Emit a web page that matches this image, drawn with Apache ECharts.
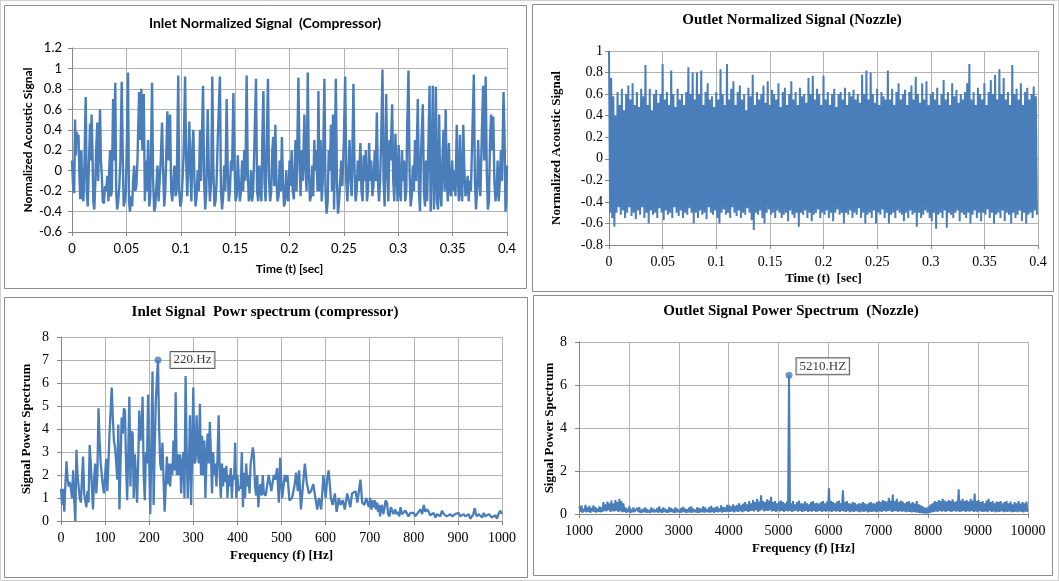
<!DOCTYPE html>
<html>
<head>
<meta charset="utf-8">
<title>Inlet / Outlet acoustic signals and power spectra</title>
<script src="https://cdn.jsdelivr.net/npm/echarts@6/dist/echarts.min.js"></script>
<style>
  html, body { margin: 0; padding: 0; background: #fff; }
  #chart { width: 1059px; height: 581px; }
</style>
</head>
<body>
<div id="chart"></div>
<script>
// ---------- Inlet normalized signal (compressor): time [ms] and amplitude ----------
const inletTimeMs = [
  0,1,2,2.8,3.5,4.3,5.2,6,6.8,7.6,
  8.6,9.5,10.5,11.5,12.6,13.5,14.5,15.5,16.6,17.3,
  18,18.8,19.6,20.5,21.5,22.2,23.3,24,25,25.8,
  26.6,27.4,28.3,29.4,30.4,31.4,32.5,33.5,34.2,35,
  35.8,36.6,37.8,38.6,39.8,40.6,41.5,42.5,43.5,44.5,
  45.7,46.6,47.5,48.5,49.5,50.5,51.5,52.4,53.3,54.3,
  55.3,56.2,57.2,58.2,59.2,60.2,61.7,62.6,63.8,64.7,
  66,67,68,69,70,71,72,73.6,74.6,75.6,
  76.6,77.6,78.6,79.6,80.6,81.6,82.8,83.8,84.8,85.8,
  86.8,87.7,88.7,90.2,91.2,92.2,93.2,94.2,95.2,96.2,
  97.7,98.6,99.6,100.6,101.6,102.6,104,105,106,107,
  107.9,108.8,109.8,110.6,111.6,112.6,113.6,114.6,115.6,116.6,
  117.7,118.6,120.5,121.5,122.5,123.5,124.8,125.8,126.8,128,
  129,130,131,132,133,134,136,137,138,139,
  140,141,142.2,143.2,144.2,145.2,146.2,147.2,148.4,149.4,
  150.4,151.4,152.4,153.4,154.4,155.4,156.4,157.4,158.4,159.4,
  160.6,161.6,162.6,163.6,164.6,165.6,166.6,167.6,169.2,170.2,
  171.2,172.2,173.2,174.2,175,176,177,178,179,180.2,
  181.2,182.2,183.2,184.2,185,186,187,188,189,190,
  191,192,193,194,195,196,197,198,199,200,
  201,202,203,204,205.5,206.5,208.2,209.2,210.2,211.2,
  212.2,213.7,214.7,215.7,216.8,217.8,218.8,219.8,220.8,221.8,
  222.8,223.8,224.8,225.8,226.6,227.6,228.6,229.6,230.6,232.1,
  233.1,234.1,235.1,236.1,237.1,238.1,239.1,240,241,242.6,
  243.6,244.6,245.6,246.6,247.6,248.6,250,251.2,252.2,253.2,
  254.2,255.2,256.2,257.2,258.8,259.8,260.8,261.8,262.8,263.8,
  265.2,266.2,267.2,268.2,269.2,270.2,271.2,272.2,273.2,274.2,
  275.2,276.2,277.2,278.4,279.2,280.3,281.3,282.3,283.3,284.3,
  285.5,286.5,287.5,288.9,289.9,290.9,291.9,292.9,294.4,295.4,
  296.4,297.4,298.4,299.4,300.4,301.4,302.4,303.4,304.4,305.4,
  306.4,307.4,308.2,309.4,310.4,311.4,312.4,313.4,314.4,315.4,
  316.4,318,319,320,321,322.6,323.6,324.6,325.6,326.6,
  327.6,328.8,329.8,330.8,331.8,332.8,333.8,334.6,335.6,336.6,
  337.6,338.6,339.6,340.6,341.6,342.6,343.6,344.6,345.6,346.6,
  347.6,348.6,349.6,350.6,351.6,352.6,353.8,354.8,355.8,356.8,
  357.8,358.8,359.8,360.8,361.8,362.8,363.8,364.8,365.8,366.8,
  368,369.5,370.5,371.5,372.5,373.5,374.5,375.5,376.5,378,
  379,380.4,381.4,382.4,383.4,384.4,385.4,386.4,387.4,388.4,
  389.4,390.4,391.4,392.4,393.4,394.4,395.4,396.8,397.8,398.6,
  399.4,400
];
const inletSignal = [
  0.1,-0.15,-0.22,0.5,0.15,0.38,0.3,0.35,-0.05,-0.28,
  0.2,-0.25,-0.3,0.1,0.72,-0.2,-0.35,0.05,0.46,0.1,
  0.55,0.2,-0.3,-0.38,-0.1,0.2,0.47,-0.1,0.3,0.6,
  0.1,-0.05,-0.3,-0.32,-0.15,-0.2,-0.05,-0.3,0,0.2,
  -0.25,-0.2,0.7,0.1,0.86,-0.2,-0.38,-0.3,-0.15,0.1,
  0.87,0.2,-0.35,-0.3,-0.2,0.3,0.96,-0.3,-0.4,-0.25,
  -0.35,-0.1,0.05,-0.2,-0.15,0.1,0.77,0.3,0.8,0.2,
  0.75,-0.3,0.1,-0.2,0.3,-0.35,-0.25,0.86,-0.1,-0.4,
  -0.35,-0.15,0.05,-0.3,-0.1,0.1,0.47,0,-0.35,-0.2,
  0.2,0.58,0.1,0.55,-0.2,-0.3,-0.1,0.05,-0.25,-0.2,
  0.93,-0.2,-0.35,-0.3,-0.1,0.15,0.92,0.1,-0.25,0.1,
  0.48,0,-0.3,0.2,0.4,-0.1,-0.35,-0.25,0,-0.2,
  0.4,-0.1,0.83,-0.1,-0.38,-0.2,0.6,0,-0.3,-0.1,
  0.92,0,-0.35,-0.3,-0.1,0.3,0.92,-0.2,-0.38,-0.25,
  0.05,-0.2,0.7,0,-0.3,-0.2,0.1,0,0.76,0.1,
  -0.3,-0.25,0.15,-0.1,-0.3,-0.2,0.1,-0.2,0.2,-0.1,
  0.93,0,-0.3,-0.25,0,-0.3,-0.2,0.2,0.9,-0.2,
  -0.3,0.05,-0.2,-0.3,0.3,0.78,-0.1,-0.3,0.2,0.9,
  -0.1,-0.3,-0.2,0.2,0.33,-0.15,0.45,-0.1,-0.3,-0.25,
  0.1,-0.2,0.33,-0.1,-0.35,-0.3,0,-0.25,-0.3,0.1,
  -0.15,0.2,-0.2,-0.28,0.3,-0.2,0.91,0.1,-0.25,0.2,
  -0.1,0.55,0,-0.2,0.96,0,-0.3,-0.25,0.05,-0.25,
  0.3,0,0.2,-0.2,0.78,-0.2,0.3,-0.3,-0.1,0.9,
  -0.2,-0.42,-0.3,0.2,0,0.45,-0.2,0.55,-0.38,0.9,
  -0.1,-0.42,-0.3,-0.1,0.1,-0.15,0.3,0.92,-0.1,-0.3,
  0,0.3,-0.1,-0.25,0.85,0,-0.3,-0.2,0.1,-0.1,
  0.27,-0.2,-0.3,0.15,-0.1,0.2,-0.3,-0.2,0.27,-0.1,
  0.1,-0.25,-0.15,0.2,-0.1,0.57,-0.1,-0.3,-0.1,0.3,
  0.99,-0.1,-0.35,0.75,0,-0.3,0.3,0.1,0.65,-0.1,
  -0.3,0.36,0,-0.3,0.25,-0.2,-0.3,0.2,-0.1,0.1,
  -0.3,-0.2,0.4,0.98,0,-0.35,-0.25,0.05,-0.2,0.3,
  -0.1,0.7,-0.2,-0.4,0.2,0.65,-0.2,-0.35,0.1,-0.3,
  0.2,0.83,-0.4,0.1,0.83,-0.38,0,0.82,-0.3,-0.38,
  0.55,-0.2,-0.35,0.1,0.4,-0.2,0.6,-0.1,-0.3,0.27,
  -0.2,-0.25,0.1,-0.2,0,-0.25,0.45,-0.1,-0.3,0.35,
  -0.2,-0.3,0.45,0,-0.25,-0.2,-0.05,-0.3,-0.1,-0.2,
  0.3,0.94,-0.1,-0.38,-0.2,0.3,-0.1,-0.25,0.2,0.83,
  0.1,0.92,0,-0.38,-0.3,0.3,0.55,0.2,0.53,-0.1,
  -0.3,-0.2,0.1,-0.3,-0.1,0.2,-0.1,0.77,0.3,-0.4,
  -0.3,0.05
];

// ---------- Outlet normalized signal (nozzle): positive and negative swings, 1 ms apart ----------
const outletSampleMs = 1;
const outletHigh = [
  1.0,0.75,0.58,0.4,0.62,0.5,0.65,0.45,0.6,0.68,0.55,0.7,0.5,0.62,0.48,0.65,0.58,0.87,0.5,0.65,
  0.45,0.6,0.64,0.52,0.6,0.88,0.55,0.62,0.5,0.82,0.6,0.48,0.65,0.55,0.6,0.5,0.62,0.85,0.6,0.8,
  0.55,0.8,0.6,0.82,0.5,0.62,0.7,0.55,0.58,0.48,0.62,0.55,0.83,0.6,0.5,0.88,0.55,0.65,0.72,0.5,
  0.62,0.68,0.55,0.6,0.45,0.66,0.58,0.78,0.5,0.62,0.55,0.6,0.68,0.52,0.72,0.5,0.64,0.6,0.55,0.7,
  0.48,0.62,0.66,0.5,0.6,0.72,0.55,0.62,0.5,0.66,0.58,0.6,0.52,0.75,0.6,0.77,0.55,0.65,0.6,0.5,
  0.77,0.55,0.62,0.5,0.6,0.65,0.48,0.6,0.62,0.55,0.66,0.5,0.62,0.58,0.64,0.55,0.6,0.52,0.78,0.6,
  0.82,0.55,0.8,0.6,0.52,0.65,0.5,0.62,0.58,0.55,0.82,0.55,0.65,0.5,0.62,0.7,0.55,0.6,0.64,0.5,
  0.62,0.68,0.55,0.76,0.6,0.52,0.7,0.55,0.72,0.5,0.6,0.62,0.55,0.66,0.5,0.6,0.73,0.55,0.62,0.5,
  0.7,0.58,0.64,0.52,0.6,0.55,0.62,0.7,0.88,0.55,0.62,0.5,0.66,0.6,0.55,0.7,0.5,0.62,0.73,0.6,
  0.78,0.55,0.83,0.6,0.75,0.55,0.62,0.5,0.87,0.6,0.65,0.55,0.7,0.5,0.62,0.66,0.55,0.6,0.67,0.58
];
const outletLow = [
  -0.5,-0.55,-0.63,-0.5,-0.45,-0.52,-0.48,-0.55,-0.5,-0.45,-0.53,-0.5,-0.56,-0.48,-0.52,-0.45,-0.55,-0.5,-0.6,-0.48,
  -0.52,-0.5,-0.55,-0.46,-0.5,-0.57,-0.48,-0.52,-0.5,-0.55,-0.45,-0.5,-0.53,-0.48,-0.55,-0.5,-0.52,-0.46,-0.5,-0.6,
  -0.5,-0.55,-0.48,-0.52,-0.5,-0.56,-0.45,-0.5,-0.52,-0.48,-0.55,-0.6,-0.5,-0.47,-0.52,-0.5,-0.55,-0.45,-0.5,-0.53,
  -0.48,-0.55,-0.5,-0.52,-0.46,-0.5,-0.57,-0.66,-0.5,-0.52,-0.48,-0.55,-0.6,-0.5,-0.47,-0.52,-0.5,-0.55,-0.48,-0.5,
  -0.55,-0.52,-0.5,-0.58,-0.48,-0.52,-0.55,-0.5,-0.63,-0.5,-0.52,-0.48,-0.55,-0.5,-0.58,-0.52,-0.5,-0.47,-0.55,-0.5,
  -0.52,-0.48,-0.55,-0.5,-0.58,-0.5,-0.47,-0.52,-0.5,-0.6,-0.5,-0.52,-0.48,-0.55,-0.5,-0.52,-0.46,-0.55,-0.5,-0.6,
  -0.52,-0.5,-0.55,-0.48,-0.6,-0.5,-0.52,-0.47,-0.55,-0.5,-0.6,-0.52,-0.5,-0.55,-0.48,-0.5,-0.52,-0.58,-0.5,-0.55,
  -0.48,-0.52,-0.5,-0.63,-0.5,-0.55,-0.52,-0.48,-0.5,-0.55,-0.58,-0.5,-0.65,-0.52,-0.5,-0.55,-0.48,-0.64,-0.5,-0.52,
  -0.55,-0.5,-0.48,-0.58,-0.5,-0.52,-0.55,-0.5,-0.6,-0.52,-0.48,-0.55,-0.5,-0.58,-0.5,-0.52,-0.47,-0.55,-0.5,-0.6,
  -0.52,-0.5,-0.55,-0.48,-0.58,-0.5,-0.52,-0.6,-0.5,-0.55,-0.52,-0.48,-0.58,-0.5,-0.6,-0.52,-0.5,-0.55,-0.48,-0.52
];

// ---------- Inlet power spectrum (compressor) ----------
const inletSpecFreq = [
  0,2.5,5,7.5,10,12.5,15,17.5,20,22.5,
  25,27.5,30,32.5,35,37.5,40,42.5,45,47.5,
  50,52.5,55,57.5,60,62.5,65,67.5,70,72.5,
  75,77.5,80,82.5,85,87.5,90,92.5,95,97.5,
  100,102.5,105,107.5,110,112.5,115,117.5,120,122.5,
  125,127.5,130,132.5,135,137.5,140,142.5,145,147.5,
  150,152.5,155,157.5,160,162.5,165,167.5,170,172.5,
  175,177.5,180,182.5,185,187.5,190,192.5,195,197.5,
  200,202.5,205,207.5,210,212.5,215,217.5,220,222.5,
  225,227.5,230,232.5,235,237.5,240,242.5,245,247.5,
  250,252.5,255,257.5,260,262.5,265,267.5,270,272.5,
  275,277.5,280,282.5,285,287.5,290,292.5,295,297.5,
  300,302.5,305,307.5,310,312.5,315,317.5,320,322.5,
  325,327.5,330,332.5,335,337.5,340,342.5,345,347.5,
  350,352.5,355,357.5,360,362.5,365,367.5,370,372.5,
  375,377.5,380,382.5,385,387.5,390,392.5,395,397.5,
  400,402.5,405,407.5,410,412.5,415,417.5,420,422.5,
  425,427.5,430,432.5,435,437.5,440,442.5,445,447.5,
  450,452.5,455,457.5,460,
  464,471,477,482.5,486,490,494,497,501.5,507.5,
  510.5,513.5,518,524,530,533,537,540,544,548,
  553,557,562,567,572,576,581,585,590,595,
  600,604,607,612,616,621,625,630,634,639,
  643.5,649,652.5,656,660,664,668,672,679,683,
  688,692,
  698,701,704,707,709,712,714,717,719,721,
  723.5,726,728,731,734,736,739,742,745,748,
  751,754,758,761,764,767,770,773,777,781,
  785,788,792,796,800,803,807,811,815,819,
  822.5,826,830,834,837,841,845,849,853,856.5,
  860,864,868,871.5,875,879,883,887,890,894,
  898,902,905,909,913,917,921,924.5,928,932,
  935,938,941,943,947,951,955,958.5,962,966,
  970,973.5,977,981,985,988.5,992,996,1000
];
const inletSpecPower = [
  1.4,0.7,1.4,0.4,1.6,2.6,1.8,1.5,1.7,1.4,
  1.0,2.2,0.9,0.0,3.1,2.0,1.5,1.0,0.8,1.8,
  2.8,1.2,0.9,0.6,1.3,0.8,3.3,2.5,1.5,0.5,
  1.8,2.5,1.2,2.0,4.9,3.5,2.5,2.0,1.5,1.2,
  2.0,2.7,1.3,2.5,3.8,4.8,5.8,4.5,3.5,3.2,
  2.6,1.8,4.2,0.5,2.5,4.5,3.8,4.9,4.8,2.5,
  0.9,3.0,5.4,1.5,3.9,3.8,1.0,2.9,2.0,0.8,
  2.5,4.8,3.5,3.8,5.4,2.0,0.9,3.0,2.5,5.5,
  2.5,0.3,3.5,6.5,0.7,3.2,5.2,6.2,7.0,4.0,
  2.5,2.2,3.4,1.8,0.4,1.5,2.8,1.6,2.5,1.5,
  2.5,2.0,3.5,2.2,5.6,2.0,2.9,2.0,2.9,1.2,
  2.5,3.0,1.0,6.3,3.0,1.0,2.5,4.6,0.7,3.0,
  5.8,2.5,2.6,4.6,3.0,2.5,5.1,2.0,3.7,2.0,
  3.5,1.0,2.8,3.8,2.5,4.3,2.9,1.2,3.0,2.0,
  2.5,1.5,2.8,4.6,2.0,1.0,2.5,1.5,2.3,1.7,
  2.4,1.0,2.0,1.5,2.3,1.0,2.0,1.8,3.4,1.0,
  2.0,1.3,1.5,1.4,3.0,0.6,2.1,1.0,2.5,1.5,
  2.0,1.2,2.5,2.8,3.2,2.8,1.5,1.1,2.0,0.6,
  1.4,1.6,1.1,2.0,1.2,
  1.1,2.0,1.3,2.0,1.8,2.3,0.8,2.75,1.0,2.0,
  1.7,2.0,0.9,1.0,1.6,2.1,1.3,2.2,0.5,1.4,
  2.5,1.7,1.2,1.3,1.6,1.6,0.5,1.0,0.5,2.0,
  1.0,1.9,2.2,1.0,0.7,1.2,0.4,1.0,0.7,0.9,
  0.5,1.2,1.2,0.6,1.2,1.2,1.3,0.8,1.8,0.8,
  0.7,1.0,
  0.6,1.0,0.5,0.9,0.6,0.9,0.5,0.8,0.4,0.7,
  0.2,0.6,0.7,0.3,0.6,0.9,0.8,0.3,0.2,0.6,
  0.6,0.3,0.5,0.3,0.4,0.2,0.6,0.3,0.3,0.45,
  0.4,0.2,0.35,0.3,0.35,0.2,0.3,0.35,0.5,0.3,
  0.7,0.4,0.5,0.4,0.25,0.2,0.35,0.15,0.3,0.35,
  0.2,0.45,0.3,0.35,0.2,0.25,0.3,0.2,0.15,0.3,
  0.25,0.35,0.2,0.15,0.3,0.2,0.15,0.3,0.1,0.2,
  0.3,0.55,0.3,0.2,0.3,0.25,0.15,0.35,0.2,0.15,
  0.3,0.25,0.15,0.2,0.25,0.1,0.3,0.45,0.3
];
const inletPeakHz = 220;

// ---------- Outlet power spectrum (nozzle): crests from 1010 Hz, troughs 20 Hz later, 40 Hz steps ----------
const outletSpecStartHz = 1010;
const outletSpecStepHz = 40;
const outletSpecHigh = [
  0.35,0.4,0.25,0.42,0.3,0.38,0.28,0.4,0.32,0.25,0.35,0.3,0.55,0.45,0.58,0.5,0.62,0.48,0.65,0.55,0.7,0.6,0.5,0.3,0.25,
  0.35,0.22,0.3,0.18,0.28,0.32,0.2,0.25,0.3,0.22,0.18,0.3,0.25,0.2,0.28,0.35,0.22,0.3,0.25,0.2,0.32,0.27,0.22,0.3,0.25,
  0.2,0.28,0.33,0.25,0.22,0.3,0.35,0.25,0.2,0.3,0.28,0.25,0.35,0.3,0.22,0.32,0.38,0.28,0.3,0.35,0.25,0.4,0.32,0.3,0.42,
  0.4,0.35,0.45,0.38,0.42,0.5,0.4,0.48,0.55,0.45,0.6,0.5,0.65,0.55,0.7,0.58,0.87,0.6,0.55,0.68,0.62,0.8,0.55,0.6,0.5,
  0.58,0.62,0.55,0.5,0.58,6.45,0.5,0.6,0.45,0.55,0.62,0.5,0.48,0.58,0.5,0.45,0.55,0.6,0.5,0.52,0.48,0.55,0.6,0.5,0.58,
  1.2,0.6,0.55,0.5,0.58,0.62,0.5,1.1,0.55,0.6,0.5,0.48,0.55,0.52,0.45,0.5,0.48,0.55,0.5,0.45,0.52,0.55,0.5,0.48,0.55,
  0.6,0.55,0.65,0.6,0.58,0.75,0.62,0.9,0.6,0.7,0.55,0.62,0.58,0.5,0.55,0.6,0.5,0.55,0.48,0.6,0.45,0.4,0.35,0.3,0.3,
  0.35,0.45,0.5,0.6,0.55,0.65,0.6,0.7,0.62,0.58,0.65,0.6,0.68,0.55,0.6,1.15,0.62,0.7,0.6,0.65,0.58,0.7,0.62,0.95,0.6,
  0.65,0.55,0.6,0.5,0.62,0.7,0.55,0.6,0.5,0.58,0.55,0.6,0.5,0.55,0.6,0.5,0.58,0.45,0.55,0.5,0.6,0.48,0.55,0.5,0.58
];
const outletSpecLow = [
  0.1,0.06,0.12,0.08,0.1,0.05,0.12,0.09,0.07,0.11,0.08,0.1,0.15,0.12,0.18,0.1,0.14,0.12,0.16,0.1,0.13,0.08,0.1,0.06,0.09,
  0.05,0.08,0.1,0.06,0.09,0.05,0.07,0.1,0.06,0.08,0.05,0.09,0.07,0.1,0.06,0.08,0.05,0.09,0.07,0.06,0.1,0.08,0.05,0.07,0.09,
  0.06,0.08,0.1,0.05,0.09,0.07,0.06,0.1,0.08,0.05,0.07,0.09,0.06,0.1,0.08,0.07,0.09,0.06,0.1,0.08,0.12,0.07,0.1,0.09,0.11,
  0.1,0.13,0.08,0.12,0.1,0.14,0.09,0.12,0.15,0.1,0.13,0.16,0.12,0.18,0.1,0.15,0.2,0.12,0.16,0.14,0.18,0.12,0.15,0.1,0.16,
  0.12,0.15,0.1,0.14,0.12,0.15,0.1,0.13,0.16,0.11,0.14,0.1,0.12,0.15,0.1,0.13,0.11,0.14,0.1,0.12,0.15,0.1,0.13,0.11,0.14,
  0.12,0.1,0.14,0.11,0.13,0.1,0.15,0.12,0.1,0.13,0.09,0.12,0.1,0.14,0.11,0.09,0.12,0.1,0.13,0.08,0.11,0.1,0.12,0.09,0.11,
  0.12,0.1,0.14,0.11,0.13,0.15,0.1,0.12,0.14,0.1,0.13,0.11,0.12,0.09,0.11,0.1,0.08,0.1,0.07,0.06,0.05,0.04,0.03,0.02,0.03,
  0.05,0.08,0.1,0.12,0.1,0.14,0.11,0.13,0.1,0.15,0.12,0.1,0.14,0.11,0.13,0.1,0.12,0.15,0.1,0.13,0.11,0.14,0.1,0.12,0.1,
  0.13,0.11,0.1,0.12,0.09,0.14,0.1,0.12,0.08,0.11,0.1,0.13,0.09,0.11,0.1,0.12,0.08,0.1,0.11,0.09,0.12,0.1,0.08,0.11,0.1
];
const outletPeakHz = 5210;

// ---------- Build series points ----------
function zip(xs, ys) {
  const n = Math.min(xs.length, ys.length);
  const out = [];
  for (let i = 0; i < n; i++) out.push([xs[i], ys[i]]);
  return out;
}
const inletSignalPts = zip(inletTimeMs.map(ms => ms / 1000), inletSignal);

const outletSignalPts = [];
for (let i = 0; i < Math.min(outletHigh.length, outletLow.length); i++) {
  outletSignalPts.push([(2 * i) * outletSampleMs / 1000, outletHigh[i]]);
  outletSignalPts.push([(2 * i + 1) * outletSampleMs / 1000, outletLow[i]]);
}

const inletSpecPts = zip(inletSpecFreq, inletSpecPower);

const outletSpecPts = [];
for (let k = 0; k < Math.min(outletSpecHigh.length, outletSpecLow.length); k++) {
  const f = outletSpecStartHz + k * outletSpecStepHz;
  outletSpecPts.push([f, outletSpecHigh[k]]);
  outletSpecPts.push([f + outletSpecStepHz / 2, outletSpecLow[k]]);
}

const inletPeak = inletSpecPts.find(p => p[0] === inletPeakHz);
const outletPeak = outletSpecPts.find(p => p[0] === outletPeakHz);

// ---------- Styling helpers ----------
const BLUE = '#4a7ebb';
const SANS = 'Lato, "Liberation Sans", sans-serif';
const SERIF = '"Liberation Serif", "Times New Roman", serif';
const GRID_LINE = '#b3b3b3';
const AXIS_LINE = '#868686';

function plainNumber(v) {
  return String(Math.round(v * 1000) / 1000);
}

function valueAxis(o) {
  return {
    type: 'value',
    gridIndex: o.grid,
    min: o.min, max: o.max, interval: o.interval,
    name: o.name,
    nameLocation: 'middle',
    nameGap: o.nameGap,
    nameTextStyle: { fontFamily: o.font, fontWeight: 'bold', fontSize: o.nameSize, color: '#000' },
    axisLine: { show: true, onZero: false, lineStyle: { color: AXIS_LINE, width: 1 } },
    axisTick: { show: true, inside: false, length: 4, lineStyle: { color: AXIS_LINE } },
    axisLabel: { show: true, fontFamily: o.font, fontSize: o.labelSize, color: '#000', margin: o.margin,
                 showMinLabel: true, showMaxLabel: true, formatter: plainNumber },
    splitLine: { show: true, lineStyle: { color: GRID_LINE, width: 1 } },
    splitArea: { show: false }
  };
}

const chart = echarts.init(document.getElementById('chart'), null, { renderer: 'canvas' });

const panelStroke = { fill: 'none', stroke: '#8c8c8c', lineWidth: 1 };

chart.setOption({
  animation: false,
  backgroundColor: '#ffffff',
  title: [
    { text: 'Inlet Normalized Signal  (Compressor)', left: 265, top: 16, textAlign: 'center', padding: 0,
      textStyle: { fontFamily: SANS, fontWeight: 'bold', fontSize: 14, color: '#000' } },
    { text: 'Outlet Normalized Signal (Nozzle)', left: 792, top: 13, textAlign: 'center', padding: 0,
      textStyle: { fontFamily: SERIF, fontWeight: 'bold', fontSize: 15, color: '#000' } },
    { text: 'Inlet Signal  Powr spectrum (compressor)', left: 265, top: 305, textAlign: 'center', padding: 0,
      textStyle: { fontFamily: SERIF, fontWeight: 'bold', fontSize: 15, color: '#000' } },
    { text: 'Outlet Signal Power Spectrum  (Nozzle)', left: 791, top: 304, textAlign: 'center', padding: 0,
      textStyle: { fontFamily: SERIF, fontWeight: 'bold', fontSize: 15, color: '#000' } }
  ],
  graphic: [
    { type: 'rect', silent: true, z: -10, shape: { x: 0.5, y: 0.5, width: 1058, height: 580 },
      style: { fill: 'none', stroke: '#cfcfcf', lineWidth: 1 } },
    { type: 'rect', silent: true, z: -10, shape: { x: 4.5, y: 5.5, width: 522, height: 283 }, style: panelStroke },
    { type: 'rect', silent: true, z: -10, shape: { x: 532.5, y: 4.5, width: 521, height: 287 }, style: panelStroke },
    { type: 'rect', silent: true, z: -10, shape: { x: 4.5, y: 297.5, width: 523, height: 280 }, style: panelStroke },
    { type: 'rect', silent: true, z: -10, shape: { x: 533.5, y: 295.5, width: 519, height: 280 }, style: panelStroke }
  ],
  grid: [
    { left: 72, top: 48, width: 435, height: 184 },
    { left: 609, top: 51, width: 429, height: 194 },
    { left: 61, top: 337, width: 441, height: 184 },
    { left: 579, top: 342, width: 449, height: 172 }
  ],
  xAxis: [
    valueAxis({ grid: 0, min: 0, max: 0.4, interval: 0.05, name: 'Time (t) [sec]', nameGap: 31,
                font: SANS, nameSize: 12, labelSize: 13, margin: 10 }),
    valueAxis({ grid: 1, min: 0, max: 0.4, interval: 0.05, name: 'Time (t)  [sec]', nameGap: 27,
                font: SERIF, nameSize: 13, labelSize: 14, margin: 10 }),
    valueAxis({ grid: 2, min: 0, max: 1000, interval: 100, name: 'Frequency (f) [Hz]', nameGap: 28,
                font: SERIF, nameSize: 13, labelSize: 14, margin: 10 }),
    valueAxis({ grid: 3, min: 1000, max: 10000, interval: 1000, name: 'Frequency (f) [Hz]', nameGap: 28,
                font: SERIF, nameSize: 13, labelSize: 14, margin: 10 })
  ],
  yAxis: [
    valueAxis({ grid: 0, min: -0.6, max: 1.2, interval: 0.2, name: 'Normalized Acoustic Signal', nameGap: 38,
                font: SANS, nameSize: 12, labelSize: 13, margin: 10 }),
    valueAxis({ grid: 1, min: -0.8, max: 1, interval: 0.2, name: 'Normalized Acoustic Signal', nameGap: 46,
                font: SERIF, nameSize: 13, labelSize: 14, margin: 6 }),
    valueAxis({ grid: 2, min: 0, max: 8, interval: 1, name: 'Signal Power Spectrum', nameGap: 28,
                font: SERIF, nameSize: 13, labelSize: 14, margin: 12 }),
    valueAxis({ grid: 3, min: 0, max: 8, interval: 2, name: 'Signal Power Spectrum', nameGap: 19,
                font: SERIF, nameSize: 13, labelSize: 14, margin: 12 })
  ],
  series: [
    { type: 'line', xAxisIndex: 0, yAxisIndex: 0, data: inletSignalPts, showSymbol: false,
      lineStyle: { color: BLUE, width: 2.4 }, itemStyle: { color: BLUE } },
    { type: 'line', xAxisIndex: 1, yAxisIndex: 1, data: outletSignalPts, showSymbol: false,
      lineStyle: { color: BLUE, width: 2 }, itemStyle: { color: BLUE } },
    { type: 'line', xAxisIndex: 2, yAxisIndex: 2, data: inletSpecPts, showSymbol: false,
      lineStyle: { color: BLUE, width: 2.3 }, itemStyle: { color: BLUE } },
    { type: 'scatter', xAxisIndex: 2, yAxisIndex: 2, data: [inletPeak], symbol: 'circle', symbolSize: 7,
      itemStyle: { color: BLUE }, z: 5,
      label: { show: true, position: 'right', distance: 9,
               formatter: () => inletPeakHz + '.Hz',
               fontFamily: SERIF, fontSize: 13, color: '#000',
               backgroundColor: '#fff', borderColor: '#333', borderWidth: 1, padding: [2, 3, 1, 3] } },
    { type: 'line', xAxisIndex: 3, yAxisIndex: 3, data: outletSpecPts, showSymbol: false,
      lineStyle: { color: BLUE, width: 2 }, itemStyle: { color: BLUE } },
    { type: 'scatter', xAxisIndex: 3, yAxisIndex: 3, data: [outletPeak], symbol: 'circle', symbolSize: 7,
      itemStyle: { color: BLUE }, z: 5,
      label: { show: true, position: 'right', distance: 4, offset: [0, -9],
               formatter: () => outletPeakHz + '.HZ',
               fontFamily: SERIF, fontSize: 13, color: '#000',
               backgroundColor: '#fff', borderColor: '#333', borderWidth: 1, padding: [2, 3, 1, 3] } }
  ]
});
</script>
</body>
</html>
